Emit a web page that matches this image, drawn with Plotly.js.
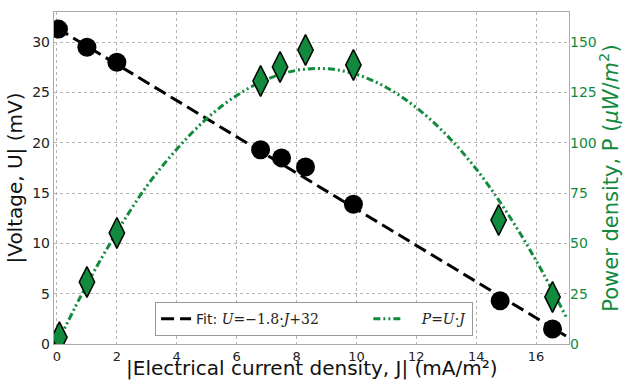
<!DOCTYPE html>
<html><head><meta charset="utf-8">
<script src="https://cdn.plot.ly/plotly-3.0.1.min.js"></script>
<style>html,body{margin:0;padding:0;background:#fff}#chart{width:623px;height:381px}</style>
</head><body><div id="chart"></div>
<script>
// Measured data
const J = [0.05, 1.0, 2.0, 6.8, 7.5, 8.3, 9.9, 14.8, 16.55];
const U = [31.3, 29.5, 28.0, 19.3, 18.5, 17.6, 13.9, 4.3, 1.5];
const Jp = [0.08, 1.0, 2.0, 6.8, 7.45, 8.3, 9.9, 14.75, 16.55];
const P = [3.3, 30.8, 55.2, 130.7, 137.7, 146.1, 138.7, 61.6, 23.4];
// Fit line
const fitJ = [0, 17];
const fitU = [31.4, 0.8];
// P = U*J curve
const curveJ = [0.1, 1, 2, 3, 4, 5, 6, 7, 8, 9, 10, 11, 12, 13, 14, 15, 16, 17];
const curveP = [3.1, 29.6, 55.6, 78.5, 96.8, 112, 123.5, 131.5, 136, 136.8, 134, 127.5, 117.5, 104, 87, 66, 41.5, 13.6];
const xTicks = [0, 2, 4, 6, 8, 10, 12, 14, 16];
const yTicks = [0, 5, 10, 15, 20, 25, 30];
const y2Ticks = [0, 25, 50, 75, 100, 125, 150];

const green = '#118a3e';
const font = 'DejaVu Sans, sans-serif';
const serif = 'DejaVu Serif';

const traces = [
  {x: fitJ, y: fitU, mode: 'lines',
   name: 'Fit: <span style="font-family:' + serif + '"><i>U</i>=−1.8·<i>J</i>+32</span>&nbsp;&nbsp;&nbsp;&nbsp;&nbsp;&nbsp;&nbsp;&nbsp;&nbsp;&nbsp;',
   line: {color: 'black', width: 3, dash: '13px,6px'}, yaxis: 'y'},
  {x: curveJ, y: curveP, mode: 'lines',
   name: '&nbsp;&nbsp;&nbsp;<span style="font-family:' + serif + '"><i>P</i>=<i>U</i>·<i>J</i></span>',
   line: {color: green, width: 3, dash: '7px,3px,2px,3px,2px,3px', shape: 'spline'}, yaxis: 'y2'},
  {x: J, y: U, mode: 'markers', showlegend: false, cliponaxis: true,
   marker: {symbol: 'circle', size: 19, color: 'black'}, yaxis: 'y'},
  {x: Jp, y: P, mode: 'markers', showlegend: false, cliponaxis: true,
   marker: {symbol: 'diamond-tall', size: 22, color: green, line: {color: 'black', width: 1.5}}, yaxis: 'y2'}
];

const layout = {
  width: 623, height: 381,
  margin: {l: 54, r: 54, t: 12, b: 37},
  paper_bgcolor: 'white', plot_bgcolor: 'white',
  font: {family: font, size: 14, color: '#222'},
  showlegend: true,
  legend: {orientation: 'h', x: 0.505, xanchor: 'center', y: 0.024, yanchor: 'bottom',
    bordercolor: '#999', borderwidth: 1, bgcolor: 'white',
    font: {family: font, size: 14, color: '#222'}, tracegroupgap: 0},
  xaxis: {range: [-0.1, 17.1], tickvals: xTicks, ticks: '', ticklen: 0,
    showgrid: true, gridcolor: '#b4b4b4', griddash: 'dot', gridwidth: 1,
    showline: true, linecolor: '#aaa', linewidth: 1.2, mirror: true, zeroline: false,
    tickfont: {size: 13, color: '#222'}, automargin: false},
  yaxis: {range: [0, 33], tickvals: yTicks, ticks: '', ticklen: 0,
    showgrid: true, gridcolor: '#b4b4b4', griddash: 'dot', gridwidth: 1,
    showline: true, linecolor: '#aaa', linewidth: 1.2, mirror: true, zeroline: false,
    tickfont: {size: 14, color: '#222'}, automargin: false,
    title: {text: '|Voltage, U| (mV)', font: {size: 20, color: '#111'}, standoff: 4}},
  yaxis2: {range: [0, 165], overlaying: 'y', side: 'right', tickvals: y2Ticks,
    ticks: '', showgrid: false, zeroline: false, showline: false, automargin: false,
    tickfont: {size: 14, color: green},
    title: {text: 'Power density, P (<i>μW</i>/<i>m</i><sup>2</sup>)', font: {size: 21, color: green}, standoff: 11}},
  annotations: [{
    text: '|Electrical current density, J| (mA/m²)', xref: 'paper', yref: 'paper',
    x: 0.501, xanchor: 'center', y: -0.1114, yanchor: 'bottom', yshift: -1, showarrow: false,
    font: {family: font, size: 20, color: '#111'}
  }]
};
Plotly.newPlot('chart', traces, layout, {staticPlot: true});
</script></body></html>
